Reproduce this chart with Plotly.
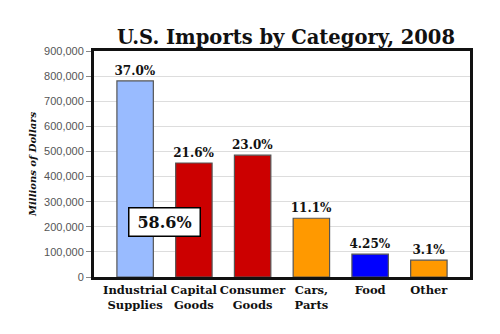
import plotly.graph_objects as go

categories = ["Industrial<br>Supplies", "Capital<br>Goods", "Consumer<br>Goods", "Cars,<br>Parts", "Food", "Other"]
values = [781000, 454000, 485000, 234000, 91000, 67000]
pct_labels = ["37.0%", "21.6%", "23.0%", "11.1%", "4.25%", "3.1%"]
bar_colors = ["#99bbff", "#cc0000", "#cc0000", "#ff9900", "#0000ff", "#ff9900"]
tick_vals = [0, 100000, 200000, 300000, 400000, 500000, 600000, 700000, 800000, 900000]
combined_label = "58.6%"
combined_y = 220000

serif = "DejaVu Serif"

fig = go.Figure()
fig.add_trace(go.Bar(
    x=list(range(len(categories))),
    y=values,
    marker=dict(color=bar_colors, line=dict(color="#555555", width=1.2)),
    width=0.62,
    text=pct_labels,
    textposition="outside",
    constraintext="none",
    textfont=dict(family=serif, size=12, color="#111111", weight="bold"),
    cliponaxis=False,
    hoverinfo="skip",
))

fig.add_annotation(
    x=0.5, y=combined_y, xref="x", yref="y",
    text="<b>" + combined_label + "</b>",
    showarrow=False,
    font=dict(family=serif, size=16, color="#111111"),
    bgcolor="white", bordercolor="black", borderwidth=1.5,
    borderpad=4, width=62,
)

fig.update_layout(
    width=500, height=334,
    margin=dict(l=94, r=30, t=51, b=57, autoexpand=False),
    paper_bgcolor="white", plot_bgcolor="white",
    title=dict(
        text="<b>U.S. Imports by Category, 2008</b>",
        x=0.572, xanchor="center", y=0.868, yanchor="bottom",
        font=dict(family=serif, size=19.5, color="#111111"),
    ),
    showlegend=False,
)

fig.update_xaxes(
    range=[-0.7, 5.7],
    tickmode="array",
    tickvals=list(range(len(categories))),
    ticktext=["<b>" + c + "</b>" for c in categories],
    tickfont=dict(family=serif, size=11.5, color="#111111"),
    tickangle=0, automargin=False,
    showline=True, linecolor="#111111", linewidth=3, mirror=True,
    ticks="", showgrid=False,
)

fig.update_yaxes(
    range=[0, 900000],
    tickmode="array",
    tickvals=tick_vals,
    ticktext=[f"{v:,}" for v in tick_vals],
    tickfont=dict(family="Liberation Sans", size=11, color="#555555"),
    showline=True, linecolor="#111111", linewidth=3, mirror=True,
    ticks="outside", ticklen=5, tickcolor="#888888", tickwidth=1,
    showgrid=True, gridcolor="#dddddd", gridwidth=1,
    zeroline=False, automargin=False,
    title=dict(text="<b><i>Millions of Dollars</i></b>",
               font=dict(family=serif, size=10, color="#111111"), standoff=6),
)

fig.write_html("out.html")
